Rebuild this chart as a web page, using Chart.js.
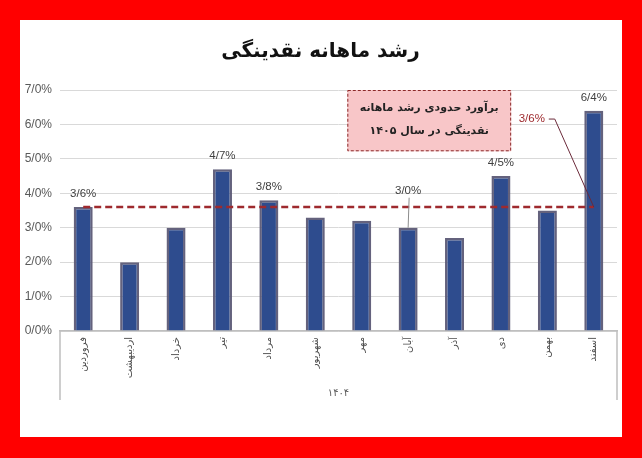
<!DOCTYPE html>
<html>
<head>
<meta charset="utf-8">
<script src="https://cdn.jsdelivr.net/npm/chart.js@4"></script>
<style>
  html, body { margin: 0; padding: 0; background: #ff0000; }
  #wrap { position: absolute; left: 20px; top: 20px; width: 602px; height: 417px; background: #fff; }
</style>
</head>
<body>
<div id="wrap"><canvas id="growthChart"></canvas></div>
<script>
// monthly liquidity growth, 1404
const months   = ["فروردین", "اردیبهشت", "خرداد", "تیر", "مرداد", "شهریور", "مهر", "آبان", "آذر", "دی", "بهمن", "اسفند"];
const growth   = [3.6, 2.0, 3.0, 4.7, 3.8, 3.3, 3.2, 3.0, 2.7, 4.5, 3.5, 6.4];
const target   = [3.6, 3.6, 3.6, 3.6, 3.6, 3.6, 3.6, 3.6, 3.6, 3.6, 3.6, 3.6];
const labelled = [0, 3, 4, 7, 9, 11];          // bars that carry a value label
const yTicks   = [0, 1, 2, 3, 4, 5, 6, 7];
const title    = "رشد ماهانه نقدینگی";
const yearText = "۱۴۰۴";
const noteText = ["برآورد حدودی رشد ماهانه", "نقدینگی در سال ۱۴۰۵"];

const fmt = v => v.toFixed(1).replace(".", "/") + "%";
const darkRed = "#9e2a2e";

// value labels, estimate box and the bracket lines under the axis
const extras = {
  id: "extras",
  afterDatasetsDraw(chart) {
    const { ctx, chartArea, scales: { x, y } } = chart;
    const bars = chart.getDatasetMeta(1).data;
    ctx.save();

    // bracket under the category axis
    ctx.strokeStyle = "#bfbfbf";
    ctx.lineWidth = 1.5;
    ctx.beginPath();
    ctx.moveTo(chartArea.left, chartArea.bottom);
    ctx.lineTo(chartArea.left, x.bottom);
    ctx.moveTo(chartArea.right, chartArea.bottom);
    ctx.lineTo(chartArea.right, x.bottom);
    ctx.stroke();

    // bar value labels
    ctx.font = "11.5px 'Liberation Sans'";
    ctx.fillStyle = "#404040";
    ctx.textAlign = "center";
    ctx.textBaseline = "middle";
    labelled.forEach(i => {
      const b = bars[i];
      const lift = i === 7 ? 37 : 13;
      ctx.fillText(fmt(growth[i]), b.x, b.y - lift);
      if (i === 7) {
        ctx.strokeStyle = "#8c8c8c";
        ctx.lineWidth = 1;
        ctx.beginPath();
        ctx.moveTo(b.x + 1, b.y - lift + 7);
        ctx.lineTo(b.x, b.y);
        ctx.stroke();
      }
    });

    // target label with leader
    const px = bars[11].x, py = y.getPixelForValue(target[11]);
    ctx.fillStyle = darkRed;
    ctx.fillText(fmt(target[11]), px - 62, py - 88);
    ctx.strokeStyle = "#6b2a3a";
    ctx.lineWidth = 1;
    ctx.beginPath();
    ctx.moveTo(px - 45, py - 88);
    ctx.lineTo(px - 39, py - 88);
    ctx.lineTo(px, py);
    ctx.stroke();

    // estimate box
    const bx0 = x.getPixelForValue(5.69), bx1 = x.getPixelForValue(9.22);
    const by0 = y.getPixelForValue(7), by1 = y.getPixelForValue(5.22);
    ctx.fillStyle = "#f8c6c8";
    ctx.fillRect(bx0, by0, bx1 - bx0, by1 - by0);
    ctx.setLineDash([3, 2]);
    ctx.strokeStyle = "#8b2a2a";
    ctx.strokeRect(bx0 + 0.5, by0 + 0.5, bx1 - bx0 - 1, by1 - by0 - 1);
    ctx.setLineDash([]);
    ctx.fillStyle = "#222";
    ctx.font = "bold 11px 'DejaVu Sans'";
    const cx = (bx0 + bx1) / 2;
    ctx.fillText(noteText[0], cx, by0 + 18);
    ctx.fillText(noteText[1], cx, by0 + 41);

    ctx.restore();
  }
};

new Chart(document.getElementById("growthChart"), {
  type: "bar",
  data: {
    labels: months,
    datasets: [
      {
        type: "line",
        data: target,
        borderColor: darkRed,
        borderWidth: 2.5,
        borderDash: [7, 4],
        pointRadius: 0,
        order: 0
      },
      {
        data: growth,
        backgroundColor: "#2e4c8e",
        borderColor: "rgba(92, 90, 118, 0.95)",
        borderWidth: 2.5,
        barPercentage: 0.41,
        categoryPercentage: 1,
        order: 1
      }
    ]
  },
  options: {
    responsive: true,
    maintainAspectRatio: false,
    animation: false,
    layout: { padding: { left: 4, right: 5, top: 0, bottom: 37 } },
    scales: {
      x: {
        grid: { display: false, drawTicks: false },
        border: { display: true, color: "#bfbfbf", width: 1.5 },
        ticks: {
          autoSkip: false, minRotation: 90, maxRotation: 90, padding: 6,
          color: "#4d4d4d", font: { family: "DejaVu Sans", size: 10 }
        },
        title: {
          display: true, text: yearText, color: "#595959",
          font: { family: "DejaVu Sans", size: 10 }, padding: { top: 0, bottom: 1 }
        },
        afterFit: s => { s.height = 69; }
      },
      y: {
        min: 0, max: 7,
        afterBuildTicks: s => { s.ticks = yTicks.map(v => ({ value: v })); },
        afterFit: s => { s.width = 36; },
        grid: { color: "#d9d9d9", drawTicks: false },
        border: { display: false },
        ticks: {
          padding: 8, color: "#595959",
          font: { family: "Liberation Sans", size: 12 },
          callback: v => fmt(v)
        }
      }
    },
    plugins: {
      legend: { display: false },
      tooltip: { enabled: false },
      title: {
        display: true, text: title, color: "#111",
        font: { family: "DejaVu Sans", size: 20, weight: "bold" },
        padding: { top: 20, bottom: 26 }
      }
    }
  },
  plugins: [extras]
});
</script>
</body>
</html>
